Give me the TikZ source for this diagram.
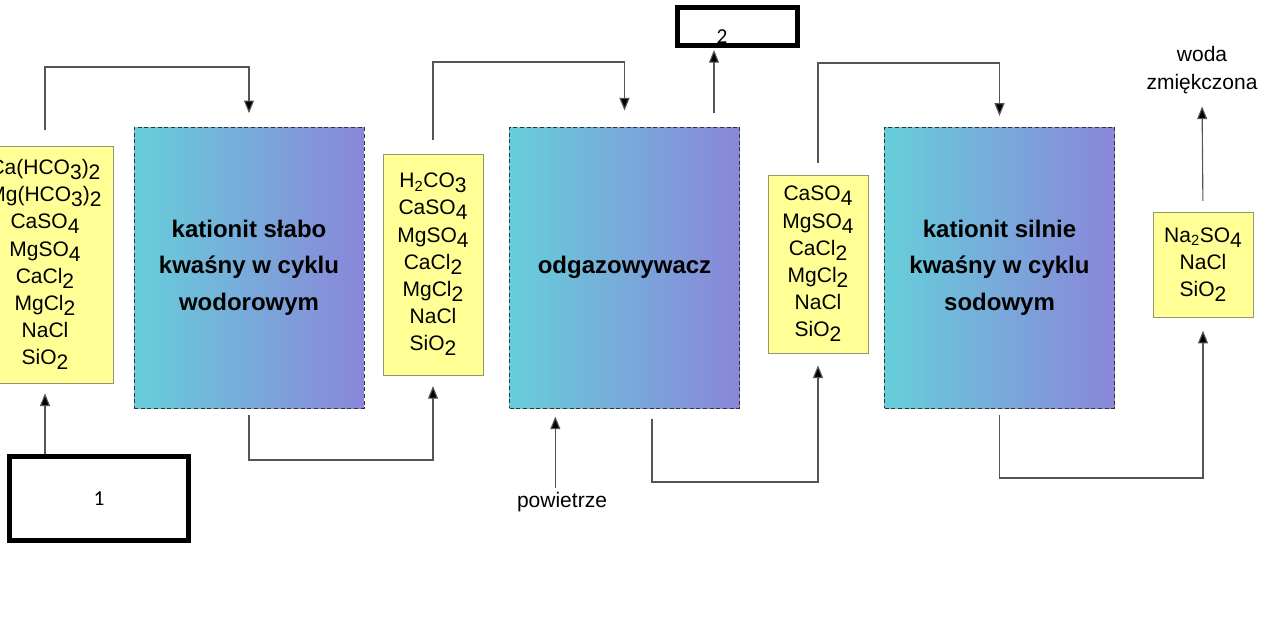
\documentclass[tikz,border=0pt]{standalone}
\usepackage{fontspec}
\setmainfont{Liberation Sans}
\newfontfamily\numfont{Carlito}
\usetikzlibrary{arrows.meta, positioning}
\definecolor{saltfill}{RGB}{255,255,150}
\definecolor{saltline}{RGB}{150,150,110}
\definecolor{ionleft}{RGB}{102,206,218}
\definecolor{ionright}{RGB}{138,134,218}
\definecolor{pipe}{RGB}{85,85,85}
\newcommand{\dsub}[1]{\raisebox{-0.45ex}{#1}}

\begin{document}
\begin{tikzpicture}[
	x=0.75pt, y=-0.75pt,
	salts/.style={rectangle, draw=saltline, fill=saltfill, line width=0.6pt, minimum width=75pt, align=center, inner sep=0pt, font=\fontsize{15.75}{20.4}\selectfont},
	column/.style={rectangle, draw=black!80, dash pattern=on 3pt off 2pt, line width=0.75pt, left color=ionleft, right color=ionright, minimum width=172.5pt, minimum height=210.75pt, align=center, font=\fontsize{18}{27.4}\selectfont\bfseries},
	outbox/.style={rectangle, draw=black, line width=3.75pt, inner sep=0pt, font=\numfont\fontsize{16}{18}\selectfont},
	plain/.style={align=center, font=\fontsize{15.75}{21}\selectfont},
	arrow/.style={-{Triangle[length=9.5pt,width=7.5pt,fill=black]}, draw=pipe, line width=0.85pt}
	]
	
	\useasboundingbox (0,0) rectangle (1274,622);
	\clip (0,0) rectangle (1274,622);
	
	\node[salts, minimum width=102pt, minimum height=177.75pt] (raw) at (45,264.5) {Ca(HCO\dsub{3})\dsub{2}\\Mg(HCO\dsub{3})\dsub{2}\\CaSO\dsub{4}\\MgSO\dsub{4}\\CaCl\dsub{2}\\MgCl\dsub{2}\\NaCl\\SiO\dsub{2}};
	\node[column] (weak) at (249,267.5) {kationit słabo\\kwaśny w cyklu\\wodorowym};
	\node[salts, minimum height=165.75pt] (acid) at (433,264.5) {H\textsubscript{2}CO\dsub{3}\\CaSO\dsub{4}\\MgSO\dsub{4}\\CaCl\dsub{2}\\MgCl\dsub{2}\\NaCl\\SiO\dsub{2}};
	\node[column] (degas) at (624.5,267.5) {odgazowywacz};
	\node[salts, minimum height=133.5pt] (hard) at (818,264) {CaSO\dsub{4}\\MgSO\dsub{4}\\CaCl\dsub{2}\\MgCl\dsub{2}\\NaCl\\SiO\dsub{2}};
	\node[column] (strong) at (999.5,267.5) {kationit silnie\\kwaśny w cyklu\\sodowym};
	\node[salts, minimum height=78.75pt] (soft) at (1203,264.5) {Na\textsubscript{2}SO\dsub{4}\\NaCl\\SiO\dsub{2}};
	
	\node[outbox, minimum width=134.25pt, minimum height=63pt] (feed) at (99,498.5) {1};
	\node[outbox, minimum width=90pt, minimum height=28.5pt] (gas) at (737.5,26.5) {};
	\node[font=\numfont\fontsize{16}{18}\selectfont] (gaslabel) at (722,37) {2};
	
	\node[plain] (air) at (562,502) {powietrze};
	\node[plain] (water) at (1202,70) {woda\\zmiękczona};
	
	\coordinate (top1) at (0,67);
	\coordinate (bot1) at (0,460);
	\coordinate (top2) at (0,62);
	\coordinate (bot2) at (0,482);
	\coordinate (top3) at (0,63);
	\coordinate (bot3) at (0,478);
	\coordinate (vent) at ([xshift=-19.5pt]degas.north east);
	\coordinate (airtop) at ([xshift=-5pt]air.north);
	\coordinate (degasout) at ([xshift=20.6pt]degas.south);
	
	\draw[arrow, shorten >=7.5pt] (feed.north -| raw.south) -- (raw.south);
	\draw[arrow, shorten <=12pt, shorten >=10pt] (raw.north) -- (raw.north |- top1) -| (weak.north);
	\draw[arrow, shorten <=4.5pt, shorten >=8pt] (weak.south) -- (weak.south |- bot1) -| (acid.south);
	\draw[arrow, shorten <=10pt, shorten >=12pt] (acid.north) -- (acid.north |- top2) -| (degas.north);
	\draw[arrow, shorten <=10.5pt, shorten >=1.5pt] (vent) -- (vent |- gas.south);
	\draw[arrow, shorten >=6pt] (airtop) -- (airtop |- degas.south);
	\draw[arrow, shorten <=7.5pt, shorten >=9pt] (degasout) -- (degasout |- bot2) -| (hard.south);
	\draw[arrow, shorten <=9pt, shorten >=8pt] (hard.north) -- (hard.north |- top3) -| (strong.north);
	\draw[arrow, shorten <=5pt, shorten >=10pt] (strong.south) -- (strong.south |- bot3) -| (soft.south);
	\draw[arrow, shorten <=8pt, shorten >=6pt] (soft.north) -- (water.south);
	
\end{tikzpicture}
\end{document}
